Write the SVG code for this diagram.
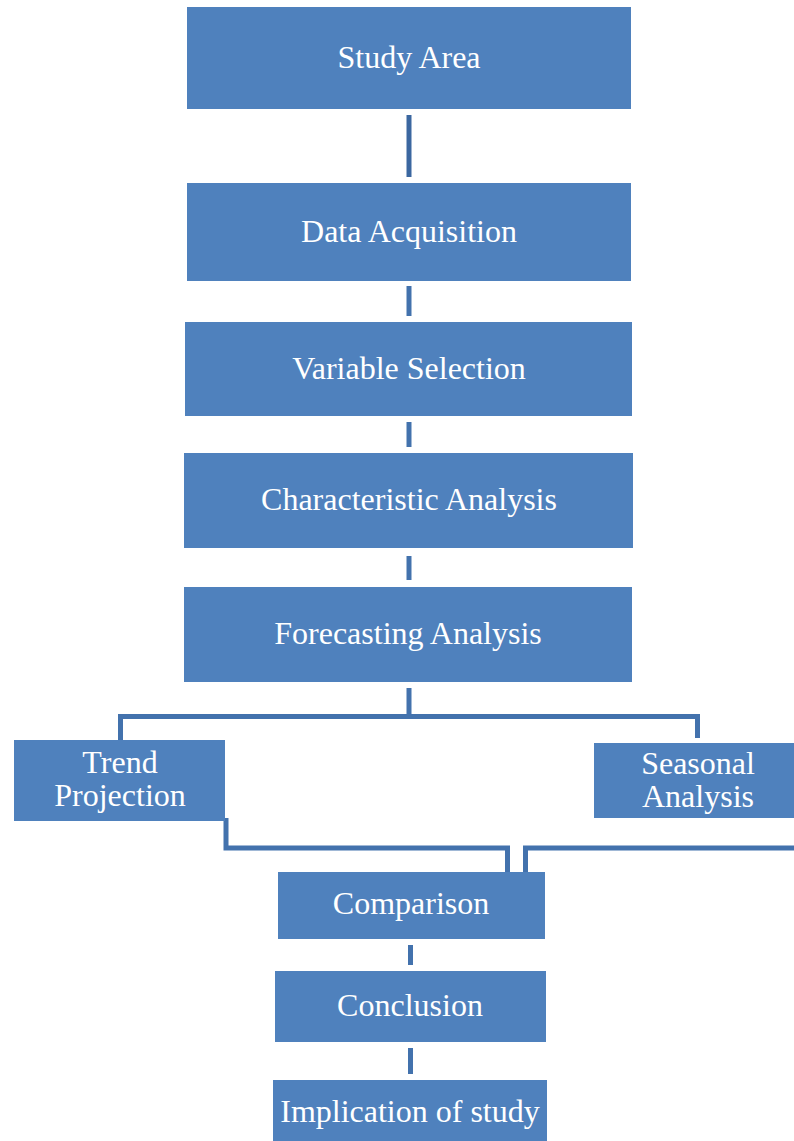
<svg xmlns="http://www.w3.org/2000/svg" width="794" height="1141" viewBox="0 0 794 1141">
<style>
.box{fill:#4F81BD;}
.lbl{font-family:"Liberation Serif","Times New Roman",serif;font-size:32px;fill:#FFFFFF;text-anchor:middle;}
.con{fill:none;stroke:#4372AD;stroke-width:5;}
</style>
<rect width="794" height="1141" fill="#FFFFFF"/>
<g id="connectors">
<line class="con" x1="409" y1="115" x2="409" y2="177" stroke="#3B67A0" style="stroke:#3B67A0"/>
<line class="con" x1="409" y1="286" x2="409" y2="316"/>
<line class="con" x1="409" y1="422" x2="409" y2="447"/>
<line class="con" x1="409" y1="556" x2="409" y2="580"/>
<path class="con" d="M409 688 V716.5 H120.5 V740"/>
<path class="con" d="M409 716.5 H697.5 V738"/>
<path class="con" d="M226 818 V848 H507.5 V872"/>
<path class="con" d="M794 848 H525.5 V872"/>
<line class="con" x1="410.5" y1="945" x2="410.5" y2="965"/>
<line class="con" x1="410.5" y1="1048" x2="410.5" y2="1074"/>
</g>
<g id="study-area">
<rect class="box" x="187" y="7" width="444" height="102"/>
<text class="lbl" x="409" y="68">Study Area</text>
</g>
<g id="data-acquisition">
<rect class="box" x="187" y="183" width="444" height="98"/>
<text class="lbl" x="409" y="242">Data Acquisition</text>
</g>
<g id="variable-selection">
<rect class="box" x="185" y="322" width="447" height="94"/>
<text class="lbl" x="409" y="379">Variable Selection</text>
</g>
<g id="characteristic-analysis">
<rect class="box" x="184" y="453" width="449" height="95"/>
<text class="lbl" x="409" y="510">Characteristic Analysis</text>
</g>
<g id="forecasting-analysis">
<rect class="box" x="184" y="587" width="448" height="95"/>
<text class="lbl" x="408" y="644">Forecasting Analysis</text>
</g>
<g id="trend-projection">
<rect class="box" x="14" y="740" width="211" height="81"/>
<text class="lbl" x="120" y="773">Trend</text>
<text class="lbl" x="120" y="806">Projection</text>
</g>
<g id="seasonal-analysis">
<rect class="box" x="594" y="743" width="200" height="75"/>
<text class="lbl" x="698" y="774">Seasonal</text>
<text class="lbl" x="698" y="807">Analysis</text>
</g>
<g id="comparison">
<rect class="box" x="278" y="872" width="267" height="67"/>
<text class="lbl" x="411" y="914">Comparison</text>
</g>
<g id="conclusion">
<rect class="box" x="275" y="971" width="271" height="71"/>
<text class="lbl" x="410" y="1016">Conclusion</text>
</g>
<g id="implication-of-study">
<rect class="box" x="273" y="1080" width="274" height="61"/>
<text class="lbl" x="410" y="1122">Implication of study</text>
</g>
</svg>
